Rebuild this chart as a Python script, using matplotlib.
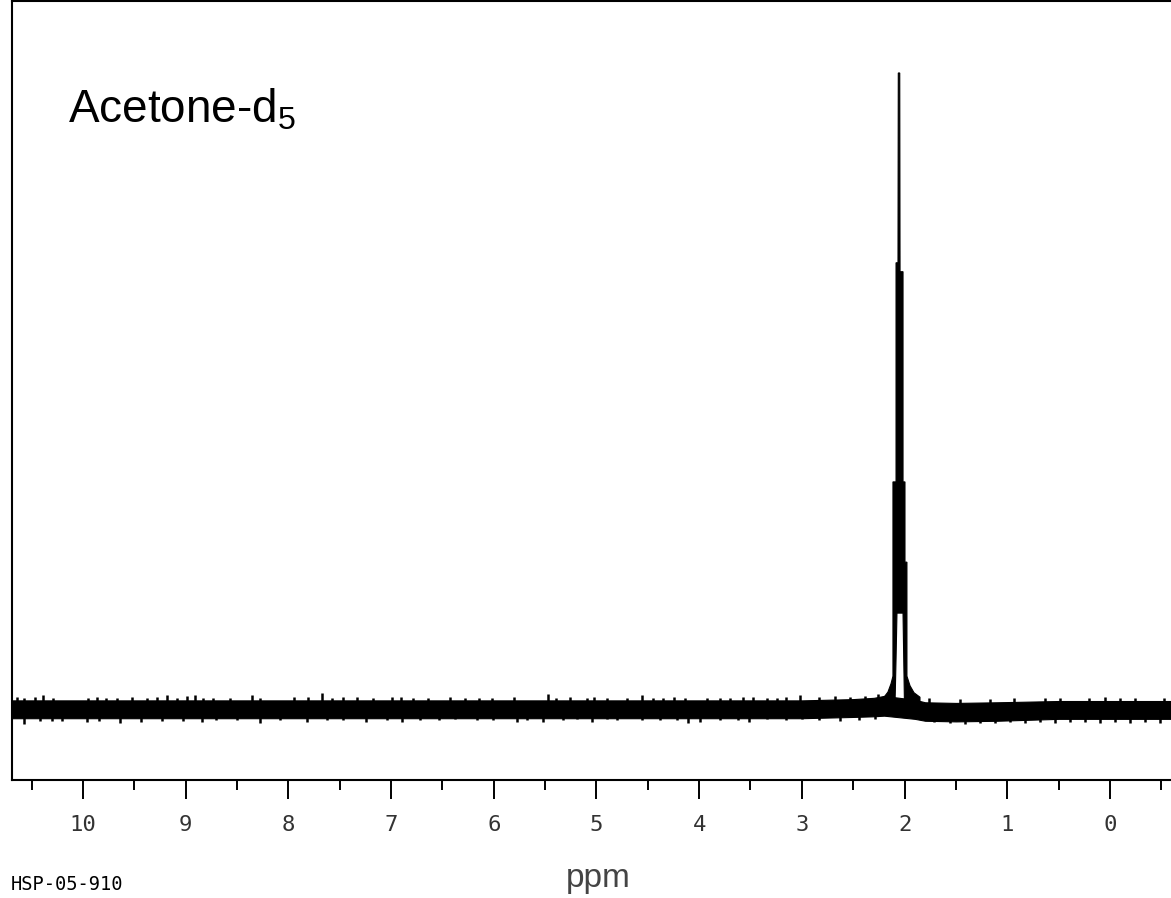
import matplotlib.pyplot as plt
from matplotlib.ticker import MultipleLocator

plt.rcParams['mathtext.fontset'] = 'custom'
plt.rcParams['mathtext.rm'] = 'Liberation Sans'

# outline of the multiplet (ppm, intensity); baseline ~ 0, top = 100
peak_ppm = [2.200, 2.162, 2.132, 2.113, 2.113, 2.083, 2.083, 2.064, 2.061, 2.047,
            2.044, 2.015, 2.015, 1.996, 1.996, 1.977, 1.977, 1.947, 1.908, 1.850,
            1.850, 2.000, 2.003, 2.008, 2.015, 2.074, 2.083, 2.090, 2.095, 2.200]
peak_int = [2.0, 2.8, 4.1, 5.3, 35.8, 35.8, 70.2, 70.2, 100.0, 100.0,
            68.8, 68.8, 35.8, 35.8, 23.2, 23.2, 5.3, 3.8, 2.7, 2.0,
            0.0, 0.0, 3.0, 8.0, 15.2, 15.2, 8.0, 3.0, 0.0, 0.0]

# solid core of the noisy baseline
band_ppm = [10.7, 9.0, 7.0, 5.0, 3.0, 2.5, 2.3, 2.2, 1.9, 1.8, 1.5, 1.1, 0.5, -0.6]
band_top = [1.5, 1.5, 1.5, 1.5, 1.5, 1.7, 1.9, 2.2, 1.6, 1.2, 1.1, 1.2, 1.4, 1.4]
band_bot = [-1.3, -1.3, -1.3, -1.3, -1.3, -1.1, -1.0, -0.9, -1.4, -1.7, -1.8, -1.7, -1.4, -1.4]

# noise spikes above the band
up_ppm = [10.64, 10.57, 10.47, 10.39, 10.29, 9.95, 9.86, 9.77, 9.67, 9.52, 9.38, 9.28,
          9.18, 9.08, 8.99, 8.91, 8.83, 8.73, 8.57, 8.35, 8.28, 7.94, 7.81, 7.67,
          7.57, 7.47, 7.33, 7.18, 6.99, 6.90, 6.79, 6.64, 6.43, 6.28, 6.14, 6.02,
          5.80, 5.47, 5.39, 5.26, 5.09, 5.02, 4.90, 4.70, 4.56, 4.45, 4.35, 4.24,
          4.14, 3.92, 3.80, 3.70, 3.57, 3.48, 3.34, 3.24, 3.15, 3.02, 2.83, 2.68,
          2.53, 2.39, 2.26, 1.76, 1.46, 1.17, 0.93, 0.63, 0.49, 0.20, 0.05, -0.10,
          -0.24, -0.53]
up_int = [2.0, 1.9, 2.0, 2.4, 1.9, 1.9, 2.0, 1.9, 1.9, 2.0, 1.9, 2.0,
          2.4, 1.9, 2.2, 2.4, 1.9, 1.9, 1.9, 2.4, 1.9, 2.0, 2.0, 2.7,
          1.9, 2.0, 2.0, 1.9, 2.0, 2.0, 1.9, 1.9, 2.0, 1.9, 1.9, 1.9,
          2.0, 2.5, 1.9, 2.0, 1.9, 2.0, 1.9, 1.9, 2.4, 1.9, 1.9, 2.0,
          1.9, 1.9, 1.9, 1.9, 2.0, 2.0, 1.9, 1.9, 2.0, 2.4, 2.0, 2.2,
          2.0, 2.2, 2.5, 1.9, 1.7, 1.7, 1.9, 1.9, 1.9, 1.9, 2.0, 1.9,
          1.9, 1.9]

# noise spikes below the band
dn_ppm = [10.57, 10.42, 10.30, 10.20, 9.96, 9.84, 9.64, 9.43, 9.23, 9.03, 8.84, 8.70,
          8.50, 8.28, 8.08, 7.82, 7.62, 7.47, 7.24, 7.04, 6.89, 6.72, 6.53, 6.38,
          6.16, 6.01, 5.77, 5.68, 5.52, 5.33, 5.19, 5.04, 4.90, 4.80, 4.56, 4.38,
          4.22, 4.11, 3.99, 3.80, 3.62, 3.51, 3.34, 3.15, 3.00, 2.83, 2.63, 2.44,
          2.29, 1.71, 1.56, 1.41, 1.27, 1.12, 0.97, 0.83, 0.68, 0.54, 0.39, 0.24,
          0.10, -0.05, -0.19, -0.34, -0.49]
dn_int = [-2.2, -1.7, -1.7, -1.7, -1.9, -1.7, -2.0, -1.9, -1.7, -1.7, -1.9, -1.6,
          -1.6, -2.0, -1.6, -1.9, -1.6, -1.6, -1.9, -1.6, -1.9, -1.6, -1.6, -1.4,
          -1.6, -1.6, -1.9, -1.6, -1.9, -1.6, -1.4, -1.9, -1.4, -1.6, -1.6, -1.6,
          -1.6, -2.0, -1.9, -1.6, -1.6, -1.9, -1.4, -1.6, -1.4, -1.6, -1.7, -1.6,
          -1.4, -1.9, -2.0, -2.2, -2.0, -2.0, -1.9, -2.0, -1.9, -2.0, -1.9, -1.9,
          -2.0, -1.9, -2.0, -1.9, -2.0]

ticks = list(range(0, 11))

fig = plt.figure(figsize=(11.71, 8.98), dpi=100)
ax = fig.add_axes([12 / 1171, 118 / 898, 1 - 12 / 1171, 779 / 898])

ax.fill_between(band_ppm, band_bot, band_top, color='black', lw=0.8)
ax.vlines(up_ppm, 0, up_int, color='black', lw=1.8)
ax.vlines(dn_ppm, dn_int, 0, color='black', lw=1.8)
ax.fill(peak_ppm, peak_int, facecolor='black', edgecolor='black', lw=0.8)

ax.set_xlim(10.69, -0.594)
ax.set_ylim(-11.0, 111.3)
ax.set_yticks([])
ax.set_xticks(ticks)
ax.set_xticklabels([str(t) for t in ticks], family='DejaVu Sans Mono',
                   fontsize=16, color='#333333')
ax.xaxis.set_minor_locator(MultipleLocator(0.5))
ax.tick_params(axis='x', which='major', direction='out', length=14, width=1.4, pad=11)
ax.tick_params(axis='x', which='minor', direction='out', length=7, width=1.4)
for s in ['left', 'bottom', 'top']:
    ax.spines[s].set_linewidth(1.5)
ax.spines['right'].set_visible(False)

fig.text(68 / 1171, 1 - 123 / 898, 'Acetone-d$_\\mathregular{5}$',
         family='Liberation Sans', fontsize=33, va='baseline', ha='left')
fig.text(598 / 1171, 1 - 878 / 898, 'ppm', family='Liberation Sans',
         fontsize=24, color='#444444', ha='center', va='center')
fig.text(11 / 1171, 1 - 884 / 898, 'HSP-05-910', family='DejaVu Sans Mono',
         fontsize=13.5, ha='left', va='center')

fig.savefig('out.png', dpi=100)
